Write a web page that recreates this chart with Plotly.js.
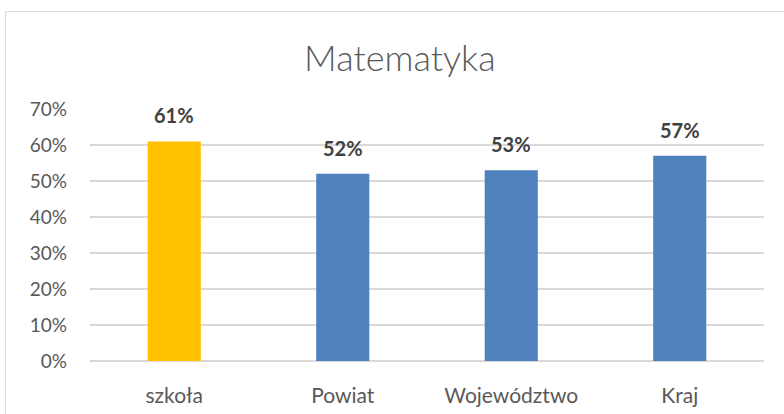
<!DOCTYPE html>
<html>
<head>
<meta charset="utf-8">
<script src="https://cdn.plot.ly/plotly-3.0.1.min.js"></script>
<style>
html,body{margin:0;padding:0;background:#fff;}
#wrap{position:relative;width:784px;height:414px;overflow:hidden;}
#chart{width:784px;height:414px;}
#frame{position:absolute;left:5px;top:11px;width:820px;height:440px;border:1px solid #d9d9d9;pointer-events:none;}
</style>
</head>
<body>
<div id="wrap"><div id="chart"></div><div id="frame"></div></div>
<script>
const categories = ["szkoła", "Powiat", "Województwo", "Kraj"];
const values = [61, 52, 53, 57];
const barColors = ["#FFC000", "#4F81BD", "#4F81BD", "#4F81BD"];
const yTicks = [0, 10, 20, 30, 40, 50, 60, 70];
const yTickLabels = ["0%", "10%", "20%", "30%", "40%", "50%", "60%", "70%"];

const FONT = "Lato, 'Open Sans', sans-serif";

const trace = {
  type: "bar",
  x: categories,
  y: values,
  marker: {color: barColors},
  hoverinfo: "none"
};

const annotations = categories.map((c, i) => ({
  x: c, y: values[i], xref: "x", yref: "y",
  text: "<b>" + values[i] + "%</b>",
  showarrow: false, yanchor: "bottom", yshift: 12,
  font: {family: FONT, size: 20, color: "#404040"}
}));

const layout = {
  width: 784, height: 414,
  margin: {l: 90, r: 20, t: 109, b: 53},
  paper_bgcolor: "#fff", plot_bgcolor: "#fff",
  title: {text: "Matematyka", x: 0.51, xanchor: "center", y: 0.86, yanchor: "middle",
          font: {family: FONT, size: 36, color: "#595959", weight: 300}},
  bargap: 0.685,
  showlegend: false,
  xaxis: {
    type: "category",
    tickfont: {family: FONT, size: 21, color: "#595959"},
    showline: false, showgrid: false, zeroline: false, ticks: "",
    ticklabelstandoff: 20, automargin: false
  },
  yaxis: {
    range: [0, 70], tickvals: yTicks, ticktext: yTickLabels,
    tickfont: {family: FONT, size: 19, color: "#595959"},
    showgrid: true, gridcolor: "#d9d9d9", gridwidth: 1.3,
    zeroline: true, zerolinecolor: "#d9d9d9", zerolinewidth: 1.3,
    showline: false, ticks: "", ticklabelstandoff: 22, automargin: false
  },
  annotations: annotations
};

Plotly.newPlot("chart", [trace], layout, {displayModeBar: false, staticPlot: true});
</script>
</body>
</html>
